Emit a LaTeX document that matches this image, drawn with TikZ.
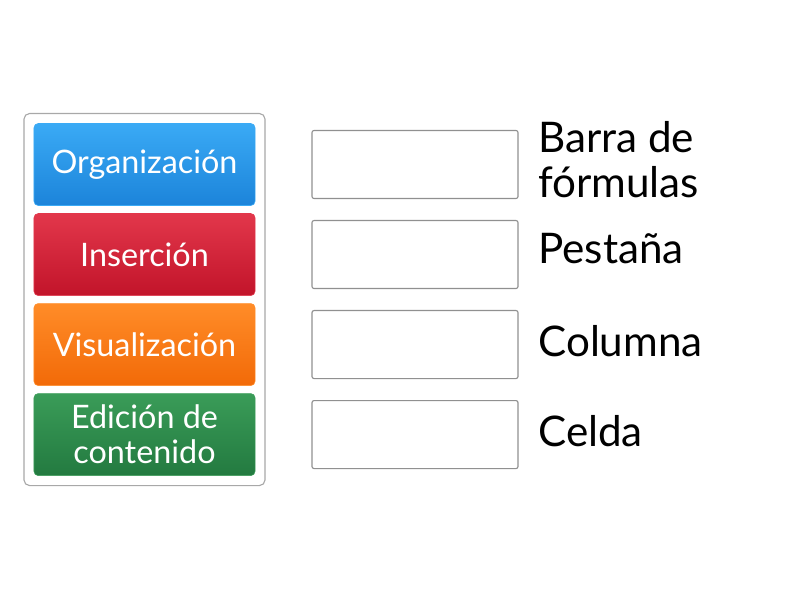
\documentclass[tikz,border=0pt]{standalone}
\usepackage{fontspec}
\setmainfont{Lato}
\usetikzlibrary{positioning,fit}
\definecolor{blueA}{HTML}{3AAAF5}
\definecolor{blueB}{HTML}{1C84DA}
\definecolor{redA}{HTML}{E2374B}
\definecolor{redB}{HTML}{C2142A}
\definecolor{orangeA}{HTML}{FF8C28}
\definecolor{orangeB}{HTML}{F26A08}
\definecolor{greenA}{HTML}{3A9C58}
\definecolor{greenB}{HTML}{237A40}
\definecolor{frameGray}{HTML}{A8A8A8}
\definecolor{slotGray}{HTML}{909090}
\begin{document}
\begin{tikzpicture}[x=0.025cm, y=-0.025cm, node distance=0.2cm,
  tile/.style={rounded corners=3pt, minimum width=5.525cm, minimum height=2.05cm,
    inner sep=0pt, outer sep=0pt, text=white, align=center,
    font=\fontsize{23}{25}\selectfont},
  slot/.style={draw=slotGray, line width=0.8pt, rounded corners=1.5pt,
    minimum width=5.15cm, minimum height=1.7cm, inner sep=0pt, outer sep=0pt},
  term/.style={anchor=west, align=left, inner sep=0pt,
    font=\fontsize{30}{32}\selectfont}]
  \useasboundingbox (0,0) rectangle (800,600);
  % tiles on the left
  \node [tile, top color=blueA, bottom color=blueB, draw=blueA] (org) at (144.5,164.5) {Organización};
  \node [tile, top color=redA, bottom color=redB, draw=redA] (ins) [below=of org] {Inserción};
  \node [tile, top color=orangeA, bottom color=orangeB, draw=orangeA] (vis) [below=of ins] {Visualización};
  \node [tile, top color=greenA, bottom color=greenB, draw=greenA] (edi) [below=of vis] {Edición de\\contenido};
  \node [draw=frameGray, line width=0.8pt, rounded corners=4pt, inner sep=0.25cm, fit=(org) (edi)] (frame) {};
  % empty slots
  \node [slot] (slot1) at (415,164.5) {};
  \node [slot] (slot2) [below=0.55cm of slot1] {};
  \node [slot] (slot3) [below=0.55cm of slot2] {};
  \node [slot] (slot4) [below=0.55cm of slot3] {};
  % terms
  \node [term] (lab1) at (538,160) {Barra de\\fórmulas};
  \node [term] (lab2) at (538,249) {Pestaña};
  \node [term] (lab3) at (538,341) {Columna};
  \node [term] (lab4) at (538,431) {Celda};
\end{tikzpicture}
\end{document}
